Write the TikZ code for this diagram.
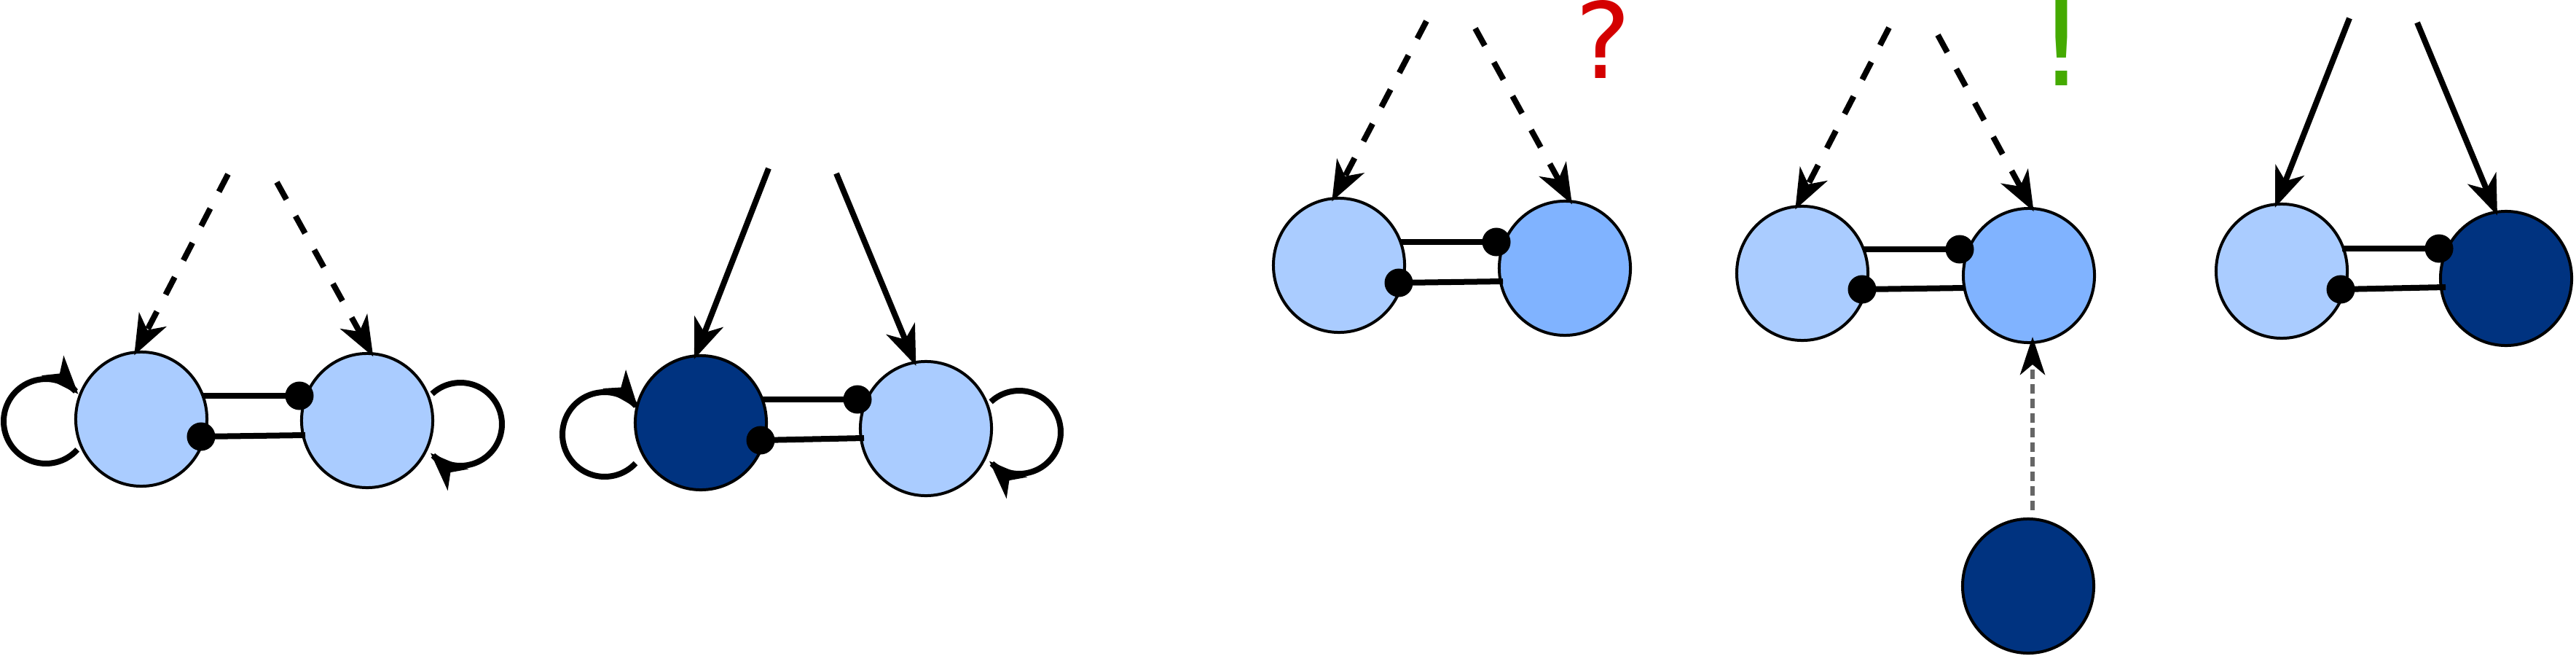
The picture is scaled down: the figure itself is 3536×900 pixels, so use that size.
\documentclass[tikz,border=0pt]{standalone}
\usepackage{fontspec}
\setmainfont{DejaVu Sans}
\usetikzlibrary{shapes.geometric,arrows.meta,calc}
\definecolor{nlight}{HTML}{AACCFF}
\definecolor{nmed}{HTML}{80B3FF}
\definecolor{ndark}{HTML}{003380}
\definecolor{qred}{HTML}{D40000}
\definecolor{egreen}{HTML}{44AA00}
\definecolor{lgray}{HTML}{666666}
\begin{document}
\begin{tikzpicture}[x=0.01cm,y=-0.01cm,
  cell/.style={ellipse,draw=black,line width=0.04cm,minimum width=1.80cm,minimum height=1.84cm,inner sep=0pt},
  light/.style={cell,fill=nlight},
  med/.style={cell,fill=nmed},
  dark/.style={cell,fill=ndark},
  bdot/.style={circle,fill=black,minimum size=0.39cm,inner sep=0pt},
  link/.style={line width=0.08cm},
  infl/.style={line width=0.08cm,shorten >=-0.07cm,-{Stealth[length=0.55cm,width=0.42cm,inset=0.16cm]}},
  dinfl/.style={infl,dash pattern=on 0.27cm off 0.26cm},
  selfl/.style={line width=0.08cm,-{Stealth[length=0.52cm,width=0.40cm,inset=0.14cm]}},
  gdash/.style={draw=lgray,line width=0.065cm,dash pattern=on 0.13cm off 0.07cm,-{Stealth[length=0.52cm,width=0.34cm,inset=0.14cm,color=black]}},
  glyph/.style={inner sep=0pt,anchor=base}
]
\useasboundingbox (0,0) rectangle (3536,900);

% ---------- nodes ----------
\node[light] (A1) at (194,575) {};
\node[light] (B1) at (504,577) {};
\node[dark]  (A2) at (962,580) {};
\node[light] (B2) at (1271,588) {};
\node[light] (A3) at (1838,364) {};
\node[med]   (B3) at (2148,368) {};
\node[light] (A4) at (2474,375) {};
\node[med]   (B4) at (2785,378) {};
\node[dark]  (C4) at (2784,804) {};
\node[light] (A5) at (3132,372) {};
\node[dark]  (B5) at (3440,382) {};

% ---------- free ends of incoming arrows ----------
\coordinate (s1l) at (313,239);  \coordinate (s1r) at (380,250);
\coordinate (s2l) at (1055,231); \coordinate (s2r) at (1148,238);
\coordinate (s3l) at (1958,29);  \coordinate (s3r) at (2025,39);
\coordinate (s4l) at (2593,38);  \coordinate (s4r) at (2660,48);
\coordinate (s5l) at (3225,25);  \coordinate (s5r) at (3318,31);

% ---------- loop centres ----------
\coordinate (L1) at (63,578);
\coordinate (R1) at (632,582);
\coordinate (L2) at (830,596);
\coordinate (R2) at (1399,593);

% ---------- dots ----------
\node[bdot] (d1a) at (276,599) {};  \node[bdot] (d1b) at (411,543) {};
\node[bdot] (d2a) at (1044,604) {}; \node[bdot] (d2b) at (1177,548) {};
\node[bdot] (d3a) at (1920,388) {}; \node[bdot] (d3b) at (2054,332) {};
\node[bdot] (d4a) at (2556,397) {}; \node[bdot] (d4b) at (2690,342) {};
\node[bdot] (d5a) at (3213,397) {}; \node[bdot] (d5b) at (3348,341) {};

% ---------- links between pairs ----------
\draw[link] ($(A1.center)+(84,-32)$) -- (d1b.center);
\draw[link] (d1a.center) -- ($(B1.center)+(-85,20)$);
\draw[link] ($(A2.center)+(84,-32)$) -- (d2b.center);
\draw[link] (d2a.center) -- ($(B2.center)+(-85,13)$);
\draw[link] ($(A3.center)+(84,-32)$) -- (d3b.center);
\draw[link] (d3a.center) -- ($(B3.center)+(-85,18)$);
\draw[link] ($(A4.center)+(84,-33)$) -- (d4b.center);
\draw[link] (d4a.center) -- ($(B4.center)+(-87,17)$);
\draw[link] ($(A5.center)+(83,-31)$) -- (d5b.center);
\draw[link] (d5a.center) -- ($(B5.center)+(-83,12)$);

% ---------- incoming arrows ----------
\draw[dinfl] (s1l) -- (A1.94.5);
\draw[dinfl] (s1r) -- (B1.87);
\draw[infl]  (s2l) -- (A2.94);
\draw[infl]  (s2r) -- (B2.100);
\draw[dinfl] (s3l) -- (A3.94);
\draw[dinfl] (s3r) -- (B3.86);
\draw[dinfl] (s4l) -- (A4.94.5);
\draw[dinfl] (s4r) -- (B4.88);
\draw[infl]  (s5l) -- (A5.94.7);
\draw[infl]  (s5r) -- (B5.99);

% ---------- self loops ----------
\draw[selfl,shift={(L1)}] plot[smooth,samples=45,domain=42:320] ({58*cos(\x)},{58*sin(\x)});
\draw[selfl,shift={(R1)}] plot[smooth,samples=45,domain=227:496] ({57*cos(\x)},{57*sin(\x)});
\draw[selfl,shift={(L2)}] plot[smooth,samples=45,domain=43:323] ({58*cos(\x)},{58*sin(\x)});
\draw[selfl,shift={(R2)}] plot[smooth,samples=45,domain=227:496] ({57*cos(\x)},{57*sin(\x)});

% ---------- grey dashed arrow ----------
\draw[gdash] ($(C4.north)+(6,-10)$) -- ($(B4.south)+(5,-10)$);

% ---------- marks ----------
\node[glyph,text=qred,font=\fontsize{41}{41}\selectfont] (q) at (2201,107) {?};
\node[glyph,text=egreen,font=\fontsize{46}{46}\selectfont] (ex) at (2830,117) {!};
\end{tikzpicture}
\end{document}
